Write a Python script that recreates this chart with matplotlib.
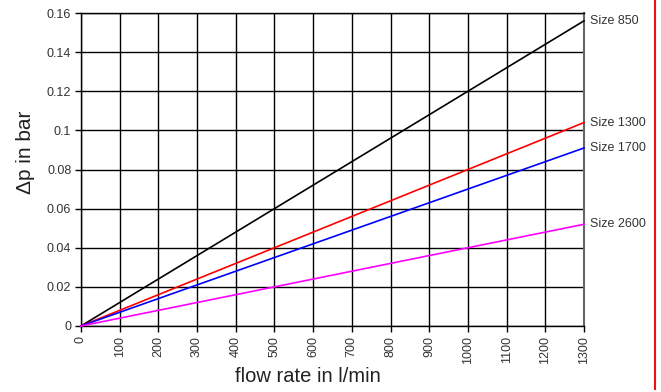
import matplotlib
matplotlib.use("Agg")
import matplotlib.pyplot as plt
from matplotlib.lines import Line2D

# pressure drop over flow rate, one straight line per filter size
flow = [0, 1300]
dp_850 = [0, 0.156]
dp_1300 = [0, 0.104]
dp_1700 = [0, 0.091]
dp_2600 = [0, 0.052]

sizes = ["Size 850", "Size 1300", "Size 1700", "Size 2600"]
colors = ["black", "#ff0000", "#0000ff", "#ff00ff"]
x_ticks = list(range(0, 1301, 100))
y_ticks = [0, 0.02, 0.04, 0.06, 0.08, 0.1, 0.12, 0.14, 0.16]
y_labels = ["0", "0.02", "0.04", "0.06", "0.08", "0.1", "0.12", "0.14", "0.16"]

plt.rcParams['font.family'] = ['Liberation Sans', 'DejaVu Sans']

fig = plt.figure(figsize=(6.61, 3.92), dpi=100)
ax = fig.add_axes([0.1225, 0.1684, 0.761, 0.7984])

for vals, name, c in zip([dp_850, dp_1300, dp_1700, dp_2600], sizes, colors):
    ax.plot(flow, vals, color=c, linewidth=1.2, zorder=3, clip_on=False)
    ax.annotate(name, (flow[-1], vals[-1]), xytext=(4, 0), textcoords='offset points',
                fontsize=9, color='#333333', va='center', ha='left',
                annotation_clip=False)

ax.set_xlim(0, 1300)
ax.set_ylim(0, 0.16)
ax.set_xticks(x_ticks)
ax.set_xticklabels([str(v) for v in x_ticks], rotation=90, fontsize=9)
ax.set_yticks(y_ticks)
ax.set_yticklabels(y_labels, fontsize=9)
ax.tick_params(direction='out', length=4, width=1, colors='black',
               labelcolor='#333333', pad=3)
ax.grid(True, color='black', linewidth=1)
ax.set_axisbelow(True)

for side in ['left', 'bottom', 'top']:
    ax.spines[side].set_color('black')
    ax.spines[side].set_linewidth(1)
ax.spines['right'].set_color('#666666')
ax.spines['right'].set_linewidth(1.5)

ax.set_xlabel('flow rate in l/min', fontsize=14.5, color='#222222')
ax.set_ylabel('\u0394p in bar', fontsize=15, color='#222222')
ax.xaxis.set_label_coords(0.451, -0.132)
ax.yaxis.set_label_coords(-0.091, 0.556)

# red border line at the right edge
fig.add_artist(Line2D([655 / 661, 655 / 661], [0.008, 1.0], color='#ee1111',
                      linewidth=1.5, transform=fig.transFigure))

fig.savefig('out.png', dpi=100)
